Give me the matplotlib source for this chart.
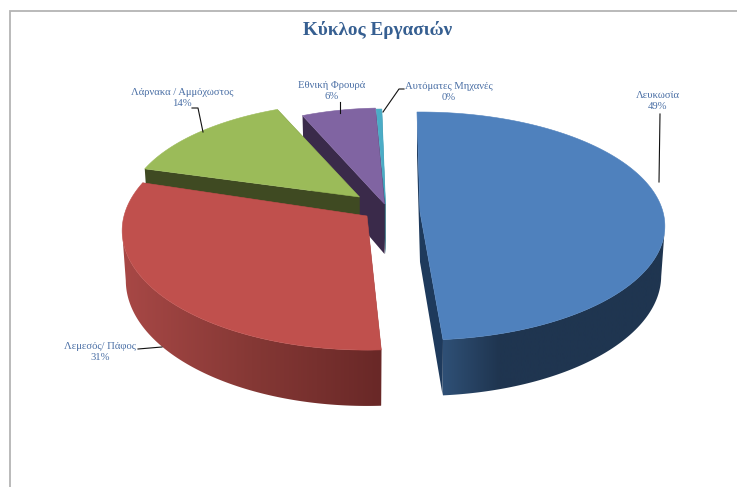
import numpy as np
import matplotlib
matplotlib.use("Agg")
import matplotlib.pyplot as plt
from matplotlib.colors import LinearSegmentedColormap
from matplotlib.patches import Polygon

title = "Κύκλος Εργασιών"
categories = ["Λευκωσία", "Λεμεσός/ Πάφος", "Λάρνακα / Αμμόχωστος", "Εθνική Φρουρά", "Αυτόματες Μηχανές"]
values = [48.9, 30.55, 14.1, 6.0, 0.45]
top_colors = ["#4F81BD", "#C0504D", "#9BBB59", "#8064A2", "#4BACC6"]
face_colors = ["#1E3A5C", "#6B2A28", "#3F4A22", "#3A2A4A", "#1F5F70"]
wall_left = ["#2F5076", "#A84846", "#3F4A22", "#3A2A4A", "#1F5F70"]
wall_mid = ["#1F3550", "#853835", "#3F4A22", "#3A2A4A", "#1F5F70"]
wall_right = ["#1F3550", "#692827", "#3F4A22", "#3A2A4A", "#1F5F70"]
wall_mid_pos = [0.25, 0.5, 0.5, 0.5, 0.5]
apex_x = [420, 367, 359.5, 384.5, 385.5]
apex_y = [212, 216, 197, 204, 204]
scale_x = [1.0, 1.0, 0.95, 0.915, 0.97]
scale_y = [1.0, 1.047, 0.945, 0.96, 0.95]
tilt = [0.2, 2.0, 0.9, 0.0, 0.0]

label_x = [658, 100, 182, 332, 449]
label_y = [101, 352, 98, 91, 92]
leaders = [
    [(660, 114), (659, 182)],
    [(138, 349), (162, 347)],
    [(192, 108), (198, 108), (203, 132)],
    [(340, 102), (340, 113)],
    [(404, 89), (399, 89), (383, 112)],
]

RX, RY, P, DEPTH, START = 243, 112.3, 0.123, 49, -1.0
BOTTOM_SHRINK = 0.985
# angles where the rim turns away from the viewer (left and right silhouette)
TANGENT_RIGHT, TANGENT_LEFT = 97.0, 263.0

fig = plt.figure(figsize=(7.37, 4.87), dpi=100)
ax = fig.add_axes([0, 0, 1, 1])
ax.set_xlim(0, 737)
ax.set_ylim(487, 0)
ax.axis("off")


def project(theta, i, level=0.0):
    t = np.radians(theta)
    X, Y = np.sin(t), np.cos(t)
    s = 1 / (1 + P * Y)
    k = 1 - (1 - BOTTOM_SHRINK) * level
    return (apex_x[i] + RX * X * s * scale_x[i] * k,
            apex_y[i] - RY * Y * s * scale_y[i] + DEPTH * level * s)


shares = np.array(values) / sum(values) * 360
starts = START + np.concatenate([[0], np.cumsum(shares)[:-1]]) + np.array(tilt)

for i in [4, 3, 2, 1, 0]:
    th = np.linspace(starts[i], starts[i] + shares[i], 300)
    ax0, ay0 = apex_x[i], apex_y[i]
    tx, ty = project(th, i)
    bx, by = project(th, i, 1.0)
    z = 10 - i
    for j in (0, -1):
        poly = [(ax0, ay0), (tx[j], ty[j]), (bx[j], by[j]), (ax0, ay0 + 50)]
        ax.fill(*zip(*poly), color=face_colors[i], lw=0, zorder=z)
    front = (th >= TANGENT_RIGHT) & (th <= TANGENT_LEFT)
    if front.sum() > 1:
        wall = np.r_[np.c_[tx[front], ty[front]], np.c_[bx[front], by[front]][::-1]]
        cmap = LinearSegmentedColormap.from_list(
            "w", [(0, wall_left[i]), (wall_mid_pos[i], wall_mid[i]), (1, wall_right[i])])
        lo, hi = wall[:, 0].min(), wall[:, 0].max()
        im = ax.imshow(np.linspace(0, 1, 256)[None, :], extent=(lo, hi, 487, 0),
                       cmap=cmap, aspect="auto", zorder=z, interpolation="bilinear")
        patch = Polygon(wall, closed=True, transform=ax.transData, fc="none", ec="none")
        ax.add_patch(patch)
        im.set_clip_path(patch)
    ax.fill(np.r_[ax0, tx], np.r_[ay0, ty], color=top_colors[i], lw=0.4, zorder=z + 0.5)

ax.set_xlim(0, 737)
ax.set_ylim(487, 0)

# frame
ax.plot([737, 10, 10], [11, 11, 487], color="#B4B4B4", lw=1.3, zorder=1, solid_joinstyle="miter")

# title and labels
serif = ["Liberation Serif", "DejaVu Serif"]
ax.text(378, 30, title, ha="center", va="center", family=serif, fontsize=13.8, fontweight="bold", color="#365F91", zorder=30)
for name, v, x, y in zip(categories, values, label_x, label_y):
    ax.text(x, y, f"{name}\n{round(v)}%", ha="center", va="center", family=serif, fontsize=7.7,
            color="#4A6FA5", linespacing=1.35, zorder=30)
for pts in leaders:
    ax.plot(*zip(*pts), color="#111111", lw=0.8, zorder=25)

fig.savefig("out.png", dpi=100)
